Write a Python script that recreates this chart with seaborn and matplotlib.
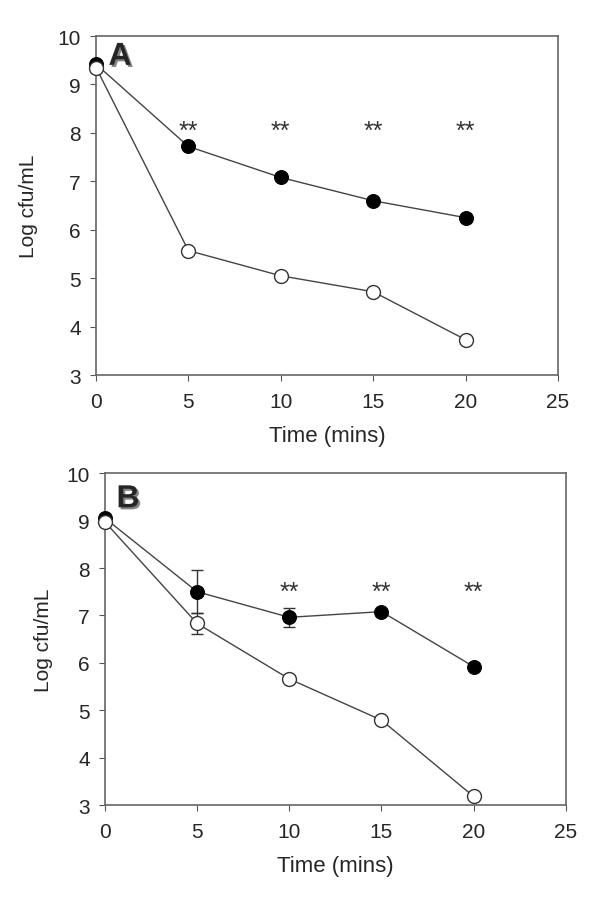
import matplotlib
matplotlib.use("Agg")
import matplotlib.pyplot as plt
import matplotlib.patheffects as pe
import seaborn as sns
import pandas as pd

# Panel A data
time_a = [0, 5, 10, 15, 20]
filled_a = [9.42, 7.72, 7.08, 6.60, 6.25]
open_a = [9.35, 5.57, 5.05, 4.72, 3.73]
stars_a_x = [5, 10, 15, 20]
stars_a_y = 8.05

# Panel B data
time_b = [0, 5, 10, 15, 20]
filled_b = [9.05, 7.50, 6.96, 7.08, 5.92]
filled_b_err = [0.0, 0.45, 0.20, 0.0, 0.0]
open_b = [8.97, 6.83, 5.66, 4.79, 3.18]
open_b_err = [0.0, 0.22, 0.0, 0.0, 0.0]
stars_b_x = [10, 15, 20]
stars_b_y = 7.5

sns.set_style("ticks")
plt.rcParams['font.family'] = ['Liberation Sans', 'DejaVu Sans']

fig = plt.figure(figsize=(6, 9.04), dpi=100)
ax_a = fig.add_axes([0.16, 0.584, 0.77, 0.375])
ax_b = fig.add_axes([0.175, 0.1084, 0.768, 0.367])


def draw_panel(ax, t, filled, open_, stars_x, stars_y, label, label_pos,
               filled_err=None, open_err=None):
    df = pd.DataFrame({'t': t, 'filled': filled, 'open': open_})
    if filled_err is not None:
        ax.errorbar(t, filled, yerr=filled_err, fmt='none', ecolor='#333333',
                    elinewidth=1, capsize=4, zorder=1)
    if open_err is not None:
        ax.errorbar(t, open_, yerr=open_err, fmt='none', ecolor='#333333',
                    elinewidth=1, capsize=4, zorder=1)
    sns.lineplot(data=df, x='t', y='filled', ax=ax, color='#444444', lw=1,
                 marker='o', markersize=10, markerfacecolor='black',
                 markeredgecolor='black', zorder=3)
    sns.lineplot(data=df, x='t', y='open', ax=ax, color='#444444', lw=1,
                 marker='o', markersize=10, markerfacecolor='white',
                 markeredgecolor='#333333', markeredgewidth=1, zorder=3)
    for sx in stars_x:
        ax.text(sx, stars_y, '**', ha='center', va='center', fontsize=18, color='#333333')
    ax.text(label_pos[0], label_pos[1], label, fontsize=23, fontweight='bold',
            ha='center', va='center',
            path_effects=[pe.withSimplePatchShadow(offset=(1.5, -1.5), alpha=0.5)])
    ax.set_xlim(0, 25)
    ax.set_ylim(3, 10)
    ax.set_xticks([0, 5, 10, 15, 20, 25])
    ax.set_yticks(range(3, 11))
    ax.tick_params(labelsize=15, direction='out', length=4, color='#555555')
    ax.tick_params(axis='x', pad=8)
    ax.tick_params(axis='y', pad=7)
    ax.set_xlabel('Time (mins)', fontsize=16, labelpad=10)
    ax.set_ylabel('Log cfu/mL', fontsize=15)
    for s in ax.spines.values():
        s.set_color('#666666')
        s.set_linewidth(1.2)
    for p in ax.lines + ax.collections:
        p.set_clip_on(False)


draw_panel(ax_a, time_a, filled_a, open_a, stars_a_x, stars_a_y, 'A', (1.3, 9.57))
draw_panel(ax_b, time_b, filled_b, open_b, stars_b_x, stars_b_y, 'B', (1.25, 9.45),
           filled_err=filled_b_err, open_err=open_b_err)
ax_a.yaxis.set_label_coords(-58 / 462, 0.5)
ax_b.yaxis.set_label_coords(-52 / 461, 0.5)

fig.savefig('out.png', dpi=100)
